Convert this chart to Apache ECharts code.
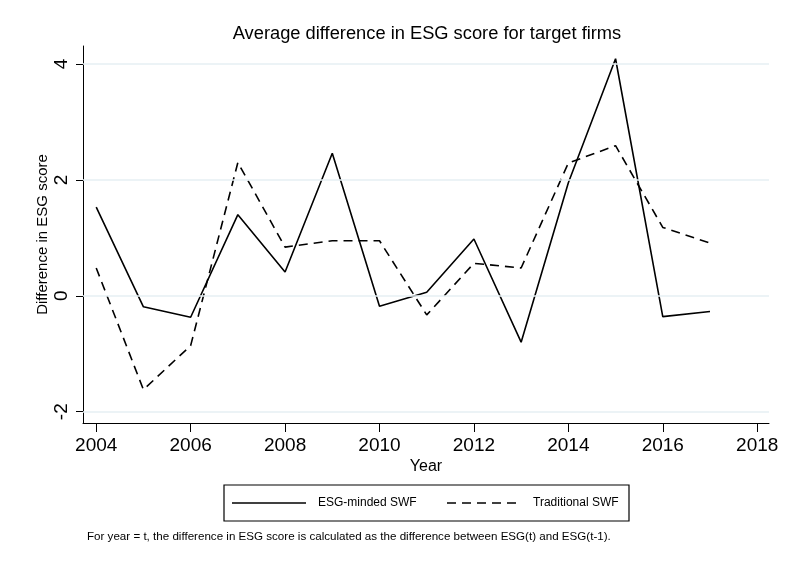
<!DOCTYPE html>
<html>
<head>
<meta charset="utf-8">
<script src="https://cdn.jsdelivr.net/npm/echarts@6/dist/echarts.min.js"></script>
<style>
  html, body { margin: 0; padding: 0; background: #fff; }
  #chart { width: 786px; height: 564px; }
</style>
</head>
<body>
<div id="chart"></div>
<script>
var years = [2004, 2005, 2006, 2007, 2008, 2009, 2010, 2011, 2012, 2013, 2014, 2015, 2016, 2017];
var esgMinded = [1.53, -0.19, -0.37, 1.40, 0.41, 2.46, -0.18, 0.06, 0.98, -0.80, 1.95, 4.09, -0.36, -0.27];
var traditional = [0.48, -1.62, -0.86, 2.30, 0.84, 0.95, 0.95, -0.33, 0.56, 0.48, 2.29, 2.59, 1.18, 0.91];
var xTicks = [2004, 2006, 2008, 2010, 2012, 2014, 2016, 2018];
var yTicks = [-2, 0, 2, 4];

var font = 'Liberation Sans, Arial, Helvetica, sans-serif';

var chart = echarts.init(document.getElementById('chart'));

function pairs(vals) {
  return years.map(function (y, i) { return [y, vals[i]]; });
}

var option = {
  animation: false,
  backgroundColor: '#fff',
  title: {
    text: 'Average difference in ESG score for target firms',
    left: 422,
    textAlign: 'center',
    top: 20,
    textStyle: { fontFamily: font, fontSize: 18.3, fontWeight: 'normal', color: '#000' }
  },
  grid: { left: 83, right: 17, top: 46, bottom: 141 },
  xAxis: {
    type: 'value',
    min: 2003.72,
    max: 2018.25,
    interval: 2,
    name: 'Year',
    nameLocation: 'middle',
    nameGap: 36,
    nameMoveOverlap: false,
    nameTextStyle: { fontFamily: font, fontSize: 16, color: '#000' },
    axisLine: { show: true, onZero: false, lineStyle: { color: '#000', width: 1 } },
    axisTick: {
      show: true, length: 9, lineStyle: { color: '#000' },
      customValues: xTicks
    },
    axisLabel: {
      fontFamily: font, fontSize: 19, color: '#000', margin: 13,
      customValues: xTicks,
      formatter: function (v) { return String(v); }
    },
    splitLine: { show: false }
  },
  yAxis: {
    type: 'value',
    min: -2.195,
    max: 4.31,
    name: 'Difference in ESG score',
    nameLocation: 'middle',
    nameGap: 33,
    nameMoveOverlap: false,
    nameTextStyle: { fontFamily: font, fontSize: 15, color: '#000' },
    axisLine: { show: true, onZero: false, lineStyle: { color: '#000', width: 1 } },
    axisTick: {
      show: true, length: 7, lineStyle: { color: '#000' },
      customValues: yTicks
    },
    axisLabel: {
      fontFamily: font, fontSize: 19, color: '#000', margin: 12, rotate: 90,
      customValues: yTicks
    },
    splitLine: { show: false }
  },
  legend: { show: false },
  series: [
    {
      name: 'grid',
      type: 'line',
      data: [],
      silent: true,
      markLine: {
        symbol: 'none',
        silent: true,
        label: { show: false },
        lineStyle: { color: '#e6eff3', width: 1.5, type: 'solid' },
        data: yTicks.map(function (t) { return { yAxis: t }; })
      }
    },
    {
      name: 'ESG-minded SWF',
      type: 'line',
      data: pairs(esgMinded),
      showSymbol: false,
      lineStyle: { color: '#000', width: 1.6, type: 'solid' },
      itemStyle: { color: '#000' },
      z: 3
    },
    {
      name: 'Traditional SWF',
      type: 'line',
      data: pairs(traditional),
      showSymbol: false,
      lineStyle: { color: '#000', width: 1.6, type: [9, 6] },
      itemStyle: { color: '#000' },
      z: 3
    }
  ],
  graphic: [
    {
      type: 'rect',
      shape: { x: 224, y: 485, width: 405, height: 36 },
      style: { fill: '#fff', stroke: '#000', lineWidth: 1.2 }
    },
    {
      type: 'line',
      shape: { x1: 232, y1: 503, x2: 306, y2: 503 },
      style: { stroke: '#000', lineWidth: 1.6 }
    },
    {
      type: 'text',
      x: 318, y: 503,
      style: { text: 'ESG-minded SWF', font: '12px ' + font, fill: '#000', textVerticalAlign: 'middle' }
    },
    {
      type: 'line',
      shape: { x1: 447, y1: 503, x2: 520, y2: 503 },
      style: { stroke: '#000', lineWidth: 1.6, lineDash: [9, 6] }
    },
    {
      type: 'text',
      x: 533, y: 503,
      style: { text: 'Traditional SWF', font: '12px ' + font, fill: '#000', textVerticalAlign: 'middle' }
    },
    {
      type: 'text',
      x: 87, y: 537,
      style: {
        text: 'For year = t, the difference in ESG score is calculated as the difference between ESG(t) and ESG(t-1).',
        font: '11.6px ' + font, fill: '#000', textVerticalAlign: 'middle'
      }
    }
  ]
};

chart.setOption(option);
</script>
</body>
</html>
